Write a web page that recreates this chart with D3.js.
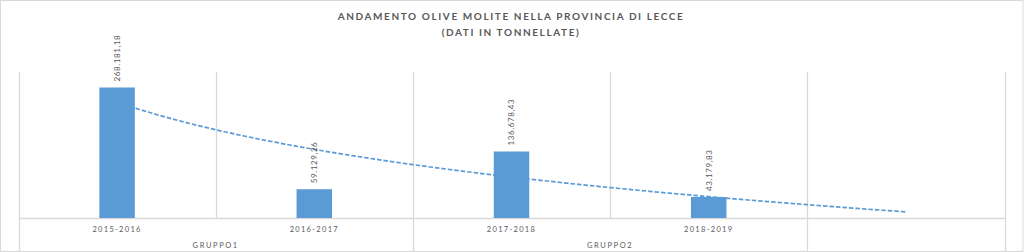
<!DOCTYPE html>
<html>
<head>
<meta charset="utf-8">
<script src="https://cdn.jsdelivr.net/npm/d3@7"></script>
<style>
  html, body { margin: 0; padding: 0; background: #fff; }
  svg { display: block; font-family: Lato, "Open Sans", sans-serif; }
</style>
</head>
<body>
<div id="chart"></div>
<script>
// chart data
const titleLines = ["ANDAMENTO OLIVE MOLITE NELLA PROVINCIA DI LECCE", "(DATI IN TONNELLATE)"];
const categories = ["2015-2016", "2016-2017", "2017-2018", "2018-2019"];
const values = [268181.18, 59129.26, 136678.43, 43179.83];
const groupNames = ["GRUPPO1", "GRUPPO2"];
const categoryGroup = [0, 0, 1, 1];
const forecastPeriods = 1;

const width = 1024, height = 252;
const plot = { left: 18.5, right: 1004.5, top: 72, bottom: 218 };
const gridColor = "#d9d9d9", textColor = "#595959", barColor = "#5b9bd5";

const svg = d3.select("#chart").append("svg")
    .attr("width", width)
    .attr("height", height);

// outer frame
svg.append("rect")
    .attr("x", 0.5).attr("y", 0.5)
    .attr("width", width - 1.5).attr("height", height - 1)
    .attr("fill", "#fff")
    .attr("stroke", gridColor);

// title
const titleG = svg.append("g").attr("fill", textColor)
    .attr("font-weight", 700).attr("font-size", 10).attr("text-anchor", "middle");
titleG.selectAll("text").data(titleLines).enter().append("text")
    .attr("x", 511)
    .attr("y", (d, i) => 19.5 + i * 16.5)
    .attr("letter-spacing", 1.6)
    .text(d => d);

// slots: real categories plus blank forecast slot(s)
const slots = d3.range(categories.length + forecastPeriods);
const x = d3.scaleBand()
    .domain(slots)
    .range([plot.left, plot.right])
    .paddingInner(0.82)
    .paddingOuter(0.41);
const step = x.step();
const xPeriod = d3.scaleLinear()
    .domain([0.5, slots.length + 0.5])
    .range([plot.left, plot.right]);

const y = d3.scaleLinear()
    .domain([0, 300000])
    .range([plot.bottom, plot.top]);

// vertical gridlines (category boundaries); group boundaries run down to the frame
const groupEdges = new Set([0, slots.length]);
categoryGroup.forEach((g, i) => { if (i === 0 || categoryGroup[i - 1] !== g) groupEdges.add(i); });
groupEdges.add(categories.length);
svg.append("g").selectAll("line")
    .data(d3.range(slots.length + 1))
    .enter().append("line")
    .attr("x1", i => Math.round(plot.left + i * step) + 0.5)
    .attr("x2", i => Math.round(plot.left + i * step) + 0.5)
    .attr("y1", plot.top)
    .attr("y2", i => groupEdges.has(i) ? height - 1 : plot.bottom)
    .attr("stroke", gridColor)
    .attr("stroke-width", 1.3);

// category axis line
svg.append("line")
    .attr("x1", plot.left).attr("x2", plot.right + 0.5)
    .attr("y1", plot.bottom + 0.5).attr("y2", plot.bottom + 0.5)
    .attr("stroke", gridColor).attr("stroke-width", 1.3);

// bars
svg.append("g").selectAll("rect")
    .data(values)
    .enter().append("rect")
    .attr("x", (d, i) => x(i))
    .attr("y", d => y(d))
    .attr("width", x.bandwidth())
    .attr("height", d => y(0) - y(d))
    .attr("fill", barColor);

// logarithmic trendline (least squares on ln(period))
const lx = values.map((d, i) => Math.log(i + 1));
const mx = d3.mean(lx), my = d3.mean(values);
const b = d3.sum(lx, (v, i) => (v - mx) * (values[i] - my)) / d3.sum(lx, v => (v - mx) * (v - mx));
const a = my - b * mx;
const trendPts = d3.range(1, slots.length + 0.001, 0.05).map(p => [p, a + b * Math.log(p)]);
svg.append("path")
    .datum(trendPts)
    .attr("fill", "none")
    .attr("stroke", barColor)
    .attr("stroke-width", 1.7)
    .attr("stroke-dasharray", "4.5,2")
    .attr("d", d3.line().x(d => xPeriod(d[0])).y(d => y(d[1])));

// data labels
const it = d3.formatLocale({ decimal: ",", thousands: ".", grouping: [3], currency: ["", "€"] });
const fmt = it.format(",.2f");
svg.append("g").selectAll("text")
    .data(values)
    .enter().append("text")
    .attr("transform", (d, i) => `translate(${x(i) + x.bandwidth() / 2},${y(d) - 6}) rotate(-90)`)
    .attr("dy", "0.35em")
    .attr("font-size", 8)
    .attr("letter-spacing", 0.6)
    .attr("fill", textColor)
    .text(d => fmt(d));

// category labels
svg.append("g").selectAll("text")
    .data(categories)
    .enter().append("text")
    .attr("x", (d, i) => x(i) + x.bandwidth() / 2)
    .attr("y", 232)
    .attr("text-anchor", "middle")
    .attr("font-size", 7.5)
    .attr("letter-spacing", 1.3)
    .attr("fill", textColor)
    .text(d => d);

// group labels
svg.append("g").selectAll("text")
    .data(groupNames)
    .enter().append("text")
    .attr("x", (d, g) => {
        const idx = categoryGroup.map((c, i) => c === g ? i : -1).filter(i => i >= 0);
        return (plot.left + d3.min(idx) * step + plot.left + (d3.max(idx) + 1) * step) / 2;
    })
    .attr("y", 247.5)
    .attr("text-anchor", "middle")
    .attr("font-size", 7.5)
    .attr("letter-spacing", 1.6)
    .attr("fill", textColor)
    .text(d => d);
</script>
</body>
</html>
